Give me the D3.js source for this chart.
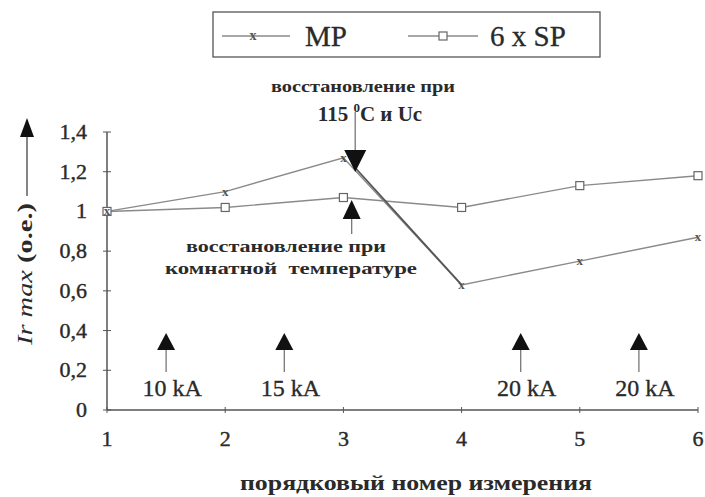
<!DOCTYPE html>
<html><head><meta charset="utf-8">
<script src="https://cdn.jsdelivr.net/npm/d3@7"></script>
<style>body{margin:0;background:#fff}svg{display:block}</style>
</head><body><svg id="c" width="705" height="497"></svg>
<script>
const xVals = [1, 2, 3, 4, 5, 6];
const mpValues = [1.0, 1.1, 1.27, 0.63, 0.75, 0.87];
const spValues = [1.0, 1.02, 1.07, 1.02, 1.13, 1.18];
const yTicks = [0, 0.2, 0.4, 0.6, 0.8, 1, 1.2, 1.4];
const seriesNames = ["MP", "6 x SP"];
const currentMarks = [{x: 1.5, label: "10 kA"}, {x: 2.5, label: "15 kA"}, {x: 4.5, label: "20 kA"}, {x: 5.5, label: "20 kA"}];
const topNote1 = "восстановление при";
const midNote = ["восстановление при", "комнатной  температуре"];
const xTitle = "порядковый номер измерения";

const svg = d3.select("#c");
const x = d3.scaleLinear().domain([1, 6]).range([107, 698]);
const y = d3.scaleLinear().domain([0, 1.4]).range([410, 132]);
const font = "'Liberation Serif', 'Times New Roman', serif";
const axisCol = "#555", lineCol = "#8a8a8a", txt = "#2a2a2a";

// axes
svg.append("line").attr("x1", x(1)).attr("x2", x(6)).attr("y1", y(0)).attr("y2", y(0)).attr("stroke", axisCol).attr("stroke-width", 1.5);
svg.append("line").attr("x1", x(1)).attr("x2", x(1)).attr("y1", y(0)).attr("y2", y(1.4)).attr("stroke", axisCol).attr("stroke-width", 1.5);
svg.selectAll(".yt").data(yTicks).enter().append("line")
  .attr("x1", x(1) - 4).attr("x2", x(1) + 4).attr("y1", d => y(d)).attr("y2", d => y(d)).attr("stroke", axisCol);
svg.selectAll(".xt").data(xVals).enter().append("line")
  .attr("x1", d => x(d)).attr("x2", d => x(d)).attr("y1", y(0) - 3).attr("y2", y(0) + 3).attr("stroke", axisCol);
svg.selectAll(".yl").data(yTicks).enter().append("text")
  .attr("x", 87).attr("y", d => y(d) + 7).attr("text-anchor", "end")
  .attr("font-family", font).attr("font-size", 22).attr("fill", txt).attr("stroke", txt).attr("stroke-width", 0.4)
  .text(d => d === 0 ? "0" : (d === 1 ? "1" : d.toFixed(1).replace(".", ",")));
svg.selectAll(".xl").data(xVals).enter().append("text")
  .attr("x", d => x(d)).attr("y", 446).attr("text-anchor", "middle")
  .attr("font-family", font).attr("font-size", 22).attr("fill", txt).attr("stroke", txt).attr("stroke-width", 0.4).text(d => d);

// lines
const line = d3.line().x((d, i) => x(xVals[i])).y(d => y(d));
svg.append("path").datum(spValues).attr("d", line).attr("fill", "none").attr("stroke", lineCol).attr("stroke-width", 1.4);
svg.append("path").datum(mpValues).attr("d", line).attr("fill", "none").attr("stroke", lineCol).attr("stroke-width", 1.4);
svg.append("line").attr("x1", x(3.1)).attr("y1", y(1.22)).attr("x2", x(4)).attr("y2", y(mpValues[3]))
  .attr("stroke", "#555").attr("stroke-width", 1.8);

// markers
svg.selectAll(".sq").data(spValues).enter().append("rect")
  .attr("x", (d, i) => x(xVals[i]) - 4).attr("y", d => y(d) - 4).attr("width", 8).attr("height", 8)
  .attr("fill", "#fff").attr("stroke", "#666").attr("stroke-width", 1.2);
svg.selectAll(".xm").data(mpValues).enter().append("text")
  .attr("x", (d, i) => x(xVals[i])).attr("y", d => y(d) + 4).attr("text-anchor", "middle")
  .attr("font-family", font).attr("font-size", 13).attr("font-weight", "bold").attr("fill", "#555").text("x");

function upArrow(cx, top, bottom, w, h) {
  svg.append("line").attr("x1", cx).attr("x2", cx).attr("y1", top + h - 1).attr("y2", bottom).attr("stroke", "#777").attr("stroke-width", 1.3);
  svg.append("path").attr("d", `M${cx},${top} L${cx - w / 2},${top + h} L${cx + w / 2},${top + h} Z`).attr("fill", "#111");
}
function downArrow(cx, top, tip, w, h) {
  svg.append("line").attr("x1", cx).attr("x2", cx).attr("y1", top).attr("y2", tip - h + 1).attr("stroke", "#777").attr("stroke-width", 1.3);
  svg.append("path").attr("d", `M${cx},${tip} L${cx - w / 2},${tip - h} L${cx + w / 2},${tip - h} Z`).attr("fill", "#111");
}

currentMarks.forEach(m => {
  upArrow(x(m.x), 333, 372, 18, 17);
  svg.append("text").attr("x", x(m.x) + 6).attr("y", 396).attr("text-anchor", "middle")
    .attr("font-family", font).attr("font-size", 24).attr("fill", txt).attr("stroke", txt).attr("stroke-width", 0.3).text(m.label);
});

// annotations
downArrow(x(3.1), 112, 172, 22, 22);
upArrow(x(3.07), 200, 234, 18, 19);
function boldText(str, cx, by, len, size) {
  return svg.append("text").attr("x", cx).attr("y", by).attr("text-anchor", "middle").attr("xml:space", "preserve")
    .attr("font-family", font).attr("font-weight", "bold").attr("font-size", size).attr("fill", txt)
    .attr("textLength", len).attr("lengthAdjust", "spacingAndGlyphs").text(str);
}
boldText(topNote1, 363, 92, 184, 17);
const t2 = svg.append("text").attr("x", 370).attr("y", 121).attr("text-anchor", "middle")
  .attr("font-family", font).attr("font-weight", "bold").attr("font-size", 21).attr("fill", txt);
t2.append("tspan").text("115 ");
t2.append("tspan").attr("dy", -9).attr("font-size", 13).text("0");
t2.append("tspan").attr("dy", 9).text("C и Uc");
boldText(midNote[0], 286, 252, 200, 17);
boldText(midNote[1], 291, 274, 252, 17);

// y title
const yt = svg.append("text").attr("transform", "translate(32,274) rotate(-90)").attr("text-anchor", "middle")
  .attr("font-family", font).attr("font-size", 21).attr("fill", txt).attr("textLength", 142).attr("lengthAdjust", "spacingAndGlyphs");
yt.append("tspan").attr("font-style", "italic").text("Ir max");
yt.append("tspan").attr("font-weight", "bold").text("  (o.e.)");
svg.append("line").attr("x1", 27).attr("x2", 27).attr("y1", 196).attr("y2", 136).attr("stroke", "#444").attr("stroke-width", 1.3);
svg.append("path").attr("d", "M27,118 L20,137 L34,137 Z").attr("fill", "#111");

// x title
boldText(xTitle, 416, 490, 352, 22);

// legend
svg.append("rect").attr("x", 213).attr("y", 12).attr("width", 387).attr("height", 45).attr("fill", "#fff").attr("stroke", "#555").attr("stroke-width", 1.3);
svg.append("line").attr("x1", 222).attr("x2", 290).attr("y1", 36).attr("y2", 36).attr("stroke", lineCol).attr("stroke-width", 1.3);
svg.append("text").attr("x", 253).attr("y", 40).attr("text-anchor", "middle").attr("font-family", font).attr("font-size", 14).attr("font-weight", "bold").attr("fill", "#555").text("x");
svg.append("text").attr("x", 305).attr("y", 46).attr("font-family", font).attr("font-size", 29).attr("fill", txt).attr("stroke", txt).attr("stroke-width", 0.3).text(seriesNames[0]);
svg.append("line").attr("x1", 408).attr("x2", 478).attr("y1", 36).attr("y2", 36).attr("stroke", lineCol).attr("stroke-width", 1.3);
svg.append("rect").attr("x", 439).attr("y", 32).attr("width", 8).attr("height", 8).attr("fill", "#fff").attr("stroke", "#666").attr("stroke-width", 1.2);
svg.append("text").attr("x", 490).attr("y", 46).attr("font-family", font).attr("font-size", 29).attr("fill", txt).attr("stroke", txt).attr("stroke-width", 0.3).text(seriesNames[1]);
</script></body></html>
